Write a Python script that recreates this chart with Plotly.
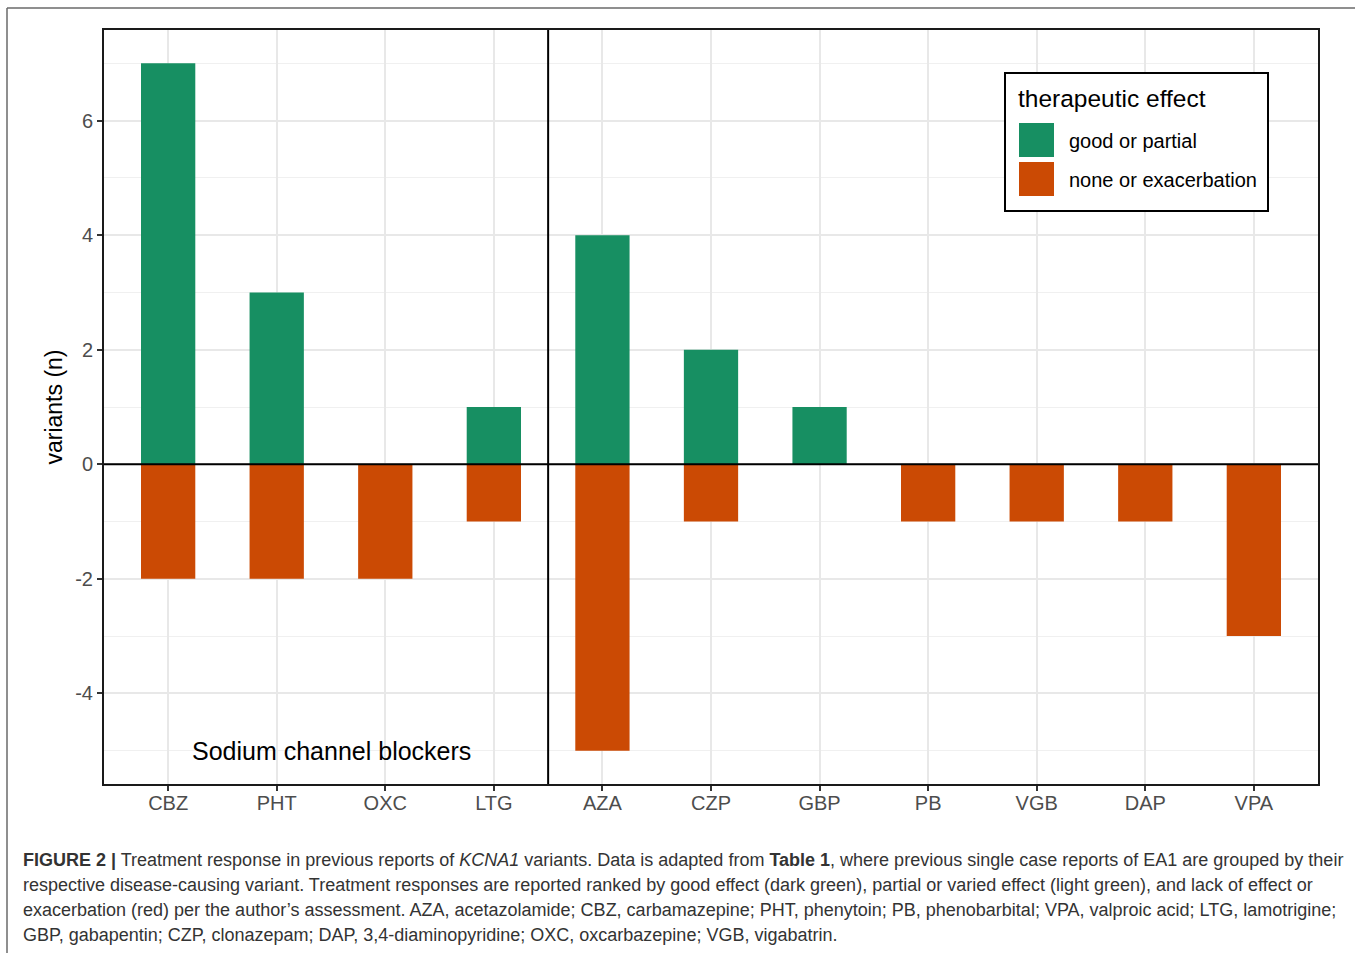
import plotly.graph_objects as go

# Drugs (first four are sodium channel blockers)
drugs = ["CBZ", "PHT", "OXC", "LTG", "AZA", "CZP", "GBP", "PB", "VGB", "DAP", "VPA"]
n_sodium_blockers = 4
good_or_partial = [7, 3, 0, 1, 4, 2, 1, 0, 0, 0, 0]
none_or_exacerbation = [-2, -2, -2, -1, -5, -1, 0, -1, -1, -1, -3]
y_ticks = [-4, -2, 0, 2, 4, 6]

GREEN = "#178F62"
ORANGE = "#CB4A04"

W, H = 1355, 953
L, R, T, B = 103, 1319, 29, 785  # plot area in pixels


def px_x(px):
    return (px - L) / (R - L)


def px_y(py):
    return (B - py) / (B - T)


FONT = "Liberation Sans, Arial, Helvetica, sans-serif"
NARROW = "Liberation Sans Narrow, Arial Narrow, Liberation Sans, sans-serif"

fig = go.Figure()
fig.add_trace(go.Bar(x=drugs, y=good_or_partial, width=0.5, marker=dict(color=GREEN, line_width=0),
                     name="good or partial", showlegend=False))
fig.add_trace(go.Bar(x=drugs, y=none_or_exacerbation, width=0.5, marker=dict(color=ORANGE, line_width=0),
                     name="none or exacerbation", showlegend=False))

shapes = []
# separator between sodium channel blockers and the rest
shapes.append(dict(type="line", xref="x", yref="paper", x0=n_sodium_blockers - 0.5, x1=n_sodium_blockers - 0.5,
                   y0=0, y1=1, line=dict(color="black", width=2)))
# zero line
shapes.append(dict(type="line", xref="paper", yref="y", x0=0, x1=1, y0=0, y1=0,
                   line=dict(color="black", width=2)))
# panel border
shapes.append(dict(type="rect", xref="paper", yref="paper", x0=0, x1=1, y0=0, y1=1,
                   line=dict(color="#1a1a1a", width=2)))
# outer figure frame (top and left edges)
shapes.append(dict(type="line", xref="paper", yref="paper", x0=px_x(7), x1=px_x(W + 5),
                   y0=px_y(8), y1=px_y(8), line=dict(color="#6a6a6a", width=1.5)))
shapes.append(dict(type="line", xref="paper", yref="paper", x0=px_x(7), x1=px_x(7),
                   y0=px_y(8), y1=px_y(H + 5), line=dict(color="#6a6a6a", width=1.5)))

# legend box
shapes.append(dict(type="rect", xref="paper", yref="paper", x0=px_x(1005), x1=px_x(1268),
                   y0=px_y(211), y1=px_y(73), line=dict(color="black", width=2), fillcolor="white"))
legend_items = [("good or partial", GREEN, 123), ("none or exacerbation", ORANGE, 162)]
annotations = [dict(text="therapeutic effect", xref="paper", yref="paper", x=px_x(1016), y=px_y(98),
                    xanchor="left", yanchor="middle", showarrow=False,
                    font=dict(family=FONT, size=24.5, color="black"))]
for label, color, top in legend_items:
    shapes.append(dict(type="rect", xref="paper", yref="paper", x0=px_x(1019), x1=px_x(1054),
                       y0=px_y(top + 34), y1=px_y(top), line_width=0, fillcolor=color))
    annotations.append(dict(text=label, xref="paper", yref="paper", x=px_x(1067), y=px_y(top + 18),
                            xanchor="left", yanchor="middle", showarrow=False,
                            font=dict(family=FONT, size=20, color="black")))

annotations.append(dict(text="Sodium channel blockers", xref="x", yref="y",
                        x=(n_sodium_blockers - 1) / 2, y=-5, showarrow=False,
                        xanchor="center", yanchor="middle",
                        font=dict(family=FONT, size=25, color="black")))

caption = [
    "<b>FIGURE 2 |</b> Treatment response in previous reports of <i>KCNA1</i> variants. Data is adapted from "
    "<b>Table 1</b>, where previous single case reports of EA1 are grouped by their",
    "respective disease-causing variant. Treatment responses are reported ranked by good effect (dark green), "
    "partial or varied effect (light green), and lack of effect or",
    "exacerbation (red) per the author\u2019s assessment. AZA, acetazolamide; CBZ, carbamazepine; PHT, phenytoin; "
    "PB, phenobarbital; VPA, valproic acid; LTG, lamotrigine;",
    "GBP, gabapentin; CZP, clonazepam; DAP, 3,4-diaminopyridine; OXC, oxcarbazepine; VGB, vigabatrin.",
]
for i, line in enumerate(caption):
    annotations.append(dict(text=line, xref="paper", yref="paper", x=px_x(21), y=px_y(860 + 25 * i),
                            xanchor="left", yanchor="middle", showarrow=False, align="left",
                            font=dict(family=NARROW, size=18, color="#333333")))

fig.update_layout(
    width=W, height=H,
    margin=dict(l=L, r=W - R, t=T, b=H - B),
    paper_bgcolor="white", plot_bgcolor="white",
    barmode="overlay",
    showlegend=False,
    font=dict(family=FONT),
    shapes=shapes,
    annotations=annotations,
    xaxis=dict(
        type="category", categoryorder="array", categoryarray=drugs,
        range=[-0.6, len(drugs) - 0.4],
        showgrid=True, gridcolor="#E8E8E8", gridwidth=2,
        ticks="outside", ticklen=5, tickwidth=2, tickcolor="#333333",
        ticklabelstandoff=-5,
        tickfont=dict(family=FONT, size=20, color="#4D4D4D"),
        showline=False, zeroline=False,
    ),
    yaxis=dict(
        range=[-5.6, 7.6],
        tickvals=y_ticks, ticktext=[str(v) for v in y_ticks],
        showgrid=True, gridcolor="#E8E8E8", gridwidth=2,
        minor=dict(tickvals=[-5, -3, -1, 1, 3, 5, 7], showgrid=True, gridcolor="#F0F0F0", gridwidth=1, ticks=""),
        ticks="outside", ticklen=5, tickwidth=2, tickcolor="#333333",
        tickfont=dict(family=FONT, size=20, color="#4D4D4D"),
        showline=False, zeroline=False,
        title=dict(text="variants (n)", font=dict(family=FONT, size=23, color="black"), standoff=6),
    ),
)

fig.write_html("out.html")
